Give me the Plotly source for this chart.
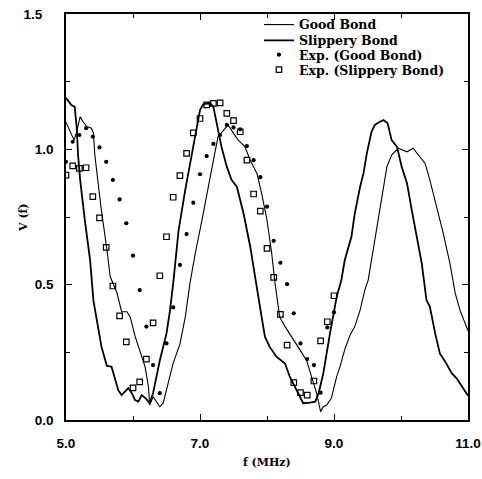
import plotly.graph_objects as go

# Theory curves
slip_x = [5.00,5.08,5.13,5.16,5.18,5.21,5.28,5.36,5.41,5.47,5.53,5.61,5.68,5.78,5.83,5.88,5.93,5.98,6.03,6.08,6.13,6.19,6.25,6.30,6.40,6.50,6.55,6.60,6.68,6.78,6.88,6.95,7.00,7.05,7.15,7.20,7.25,7.32,7.40,7.47,7.55,7.65,7.75,7.85,7.92,7.97,8.04,8.14,8.27,8.34,8.44,8.54,8.64,8.72,8.77,8.84,8.94,9.04,9.11,9.16,9.26,9.31,9.39,9.44,9.49,9.56,9.61,9.67,9.74,9.80,9.86,9.94,10.01,10.09,10.16,10.23,10.31,10.38,10.43,10.51,10.58,10.66,10.76,10.83,10.91,11.00]
slip_y = [1.19,1.164,1.157,1.08,0.98,0.89,0.74,0.59,0.44,0.35,0.27,0.20,0.197,0.11,0.092,0.105,0.118,0.10,0.074,0.068,0.092,0.08,0.062,0.10,0.22,0.32,0.40,0.505,0.70,0.85,0.985,1.083,1.145,1.167,1.17,1.157,1.096,1.01,0.936,0.887,0.862,0.763,0.64,0.48,0.38,0.307,0.27,0.234,0.209,0.16,0.11,0.062,0.064,0.068,0.099,0.172,0.32,0.455,0.517,0.59,0.677,0.763,0.862,0.911,0.985,1.065,1.09,1.10,1.108,1.096,1.034,1.01,0.936,0.874,0.776,0.69,0.579,0.443,0.419,0.32,0.246,0.215,0.172,0.154,0.123,0.09]

good_x = [5.00,5.08,5.12,5.16,5.21,5.26,5.31,5.38,5.41,5.43,5.52,5.61,5.66,5.76,5.83,5.91,5.96,6.03,6.10,6.18,6.23,6.25,6.30,6.35,6.40,6.45,6.53,6.60,6.70,6.78,6.85,6.93,7.03,7.12,7.22,7.27,7.35,7.42,7.50,7.57,7.67,7.75,7.85,7.92,8.00,8.07,8.12,8.19,8.27,8.39,8.49,8.59,8.67,8.74,8.80,8.84,8.89,8.96,8.99,9.04,9.09,9.16,9.24,9.31,9.39,9.46,9.51,9.61,9.71,9.79,9.86,9.96,10.03,10.09,10.18,10.28,10.36,10.43,10.53,10.63,10.73,10.81,10.88,10.98,11.00]
good_y = [1.10,1.059,1.034,1.065,1.12,1.10,1.084,1.078,1.059,0.98,0.79,0.63,0.53,0.47,0.40,0.40,0.38,0.31,0.26,0.197,0.123,0.055,0.086,0.068,0.049,0.062,0.137,0.21,0.28,0.38,0.505,0.617,0.739,0.862,0.985,1.047,1.071,1.09,1.059,1.034,1.01,0.96,0.911,0.837,0.739,0.616,0.505,0.38,0.345,0.296,0.26,0.22,0.16,0.099,0.031,0.049,0.055,0.08,0.11,0.16,0.197,0.26,0.314,0.345,0.406,0.48,0.517,0.665,0.813,0.936,0.979,1.004,0.997,0.991,1.004,0.973,0.948,0.887,0.788,0.69,0.579,0.468,0.406,0.345,0.33]

# Experimental points
exp_f = [5.0,5.1,5.2,5.3,5.4,5.5,5.6,5.7,5.8,5.9,6.0,6.1,6.2,6.3,6.4,6.5,6.6,6.7,6.8,6.9,7.0,
         7.1,7.2,7.3,7.4,7.5,7.6,7.7,7.8,7.9,8.0,8.1,8.2,8.3,8.4,8.5,8.6,8.7,8.8,8.9,9.0]
exp_good = [0.954,1.028,1.053,1.078,1.047,1.007,0.954,0.887,0.815,0.727,0.607,0.48,0.345,0.203,0.099,0.283,0.416,0.573,0.687,0.803,0.908,
            0.975,1.02,1.053,1.09,1.081,1.074,1.012,0.96,0.897,0.788,0.662,0.581,0.502,0.394,0.283,0.225,0.203,0.101,0.342,0.398]
exp_slip = [0.905,0.939,0.93,0.932,0.825,0.747,0.638,0.495,0.385,0.289,0.119,0.141,0.225,0.359,0.533,0.677,0.823,0.903,0.985,1.061,1.114,
            1.164,1.17,1.172,1.133,1.106,1.065,0.96,0.835,0.772,0.634,0.527,0.39,0.277,0.138,0.101,0.092,0.144,0.292,0.363,0.459]

x_ticks = [5, 7, 9, 11]
x_ticktext = ["5.0", "7.0", "9.0", "11.0"]
y_ticks = [0, 0.5, 1.0, 1.5]
y_ticktext = ["0.0", "0.5", "1.0", "1.5\u00a0\u00a0\u00a0"]
x_title = "f (MHz)"
y_title = "V (f)"

fig = go.Figure()
fig.add_trace(go.Scatter(x=good_x, y=good_y, mode="lines", name="Good Bond", legend="legend",
                         line=dict(color="black", width=1.1)))
fig.add_trace(go.Scatter(x=slip_x, y=slip_y, mode="lines", name="Slippery Bond", legend="legend2",
                         line=dict(color="black", width=1.8)))
fig.add_trace(go.Scatter(x=exp_f, y=exp_good, mode="markers", name="Exp. (Good Bond)", legend="legend3",
                         marker=dict(symbol="circle", size=4.2, color="black")))
fig.add_trace(go.Scatter(x=exp_f, y=exp_slip, mode="markers", name="Exp. (Slippery Bond)", legend="legend4",
                         marker=dict(symbol="square-open", size=5.5, color="black",
                                     line=dict(width=1.2, color="black"))))

tickfont = dict(family="Liberation Sans", size=13.5, color="black", weight="bold")
titlefont = dict(family="DejaVu Serif", size=11, color="black", weight="bold")
legfont = dict(family="DejaVu Serif", size=12.5, color="black", weight="bold")

def leg(yc):
    return dict(x=0.48, y=yc, xanchor="left", yanchor="middle",
                bgcolor="rgba(0,0,0,0)", borderwidth=0, font=legfont, itemwidth=30)

fig.update_layout(
    width=482, height=479,
    margin=dict(l=66, r=14, t=14, b=59, autoexpand=False),
    paper_bgcolor="white", plot_bgcolor="white",
    showlegend=True,
    legend=leg(0.973), legend2=leg(0.934), legend3=leg(0.899), legend4=leg(0.862),
    annotations=[
        dict(text=x_title, xref="paper", yref="paper", x=0.5, y=-0.105,
             showarrow=False, font=titlefont, xanchor="center", yanchor="middle"),
        dict(text=y_title, xref="paper", yref="paper", x=-0.107, y=0.5, textangle=-90,
             showarrow=False, font=titlefont, xanchor="center", yanchor="middle"),
    ],
)
fig.update_xaxes(range=[5, 11], tickvals=x_ticks, ticktext=x_ticktext, automargin=False,
                 ticks="inside", ticklen=6, tickwidth=1.2, tickcolor="black",
                 ticklabelstandoff=10, ticklabeloverflow="allow",
                 minor=dict(dtick=1, tick0=5, ticks="inside", ticklen=4, tickcolor="black"),
                 showline=True, linecolor="black", linewidth=1.5, mirror="allticks",
                 showgrid=False, zeroline=False, tickfont=tickfont)
fig.update_yaxes(range=[0, 1.5], tickvals=y_ticks, ticktext=y_ticktext, automargin=False,
                 ticks="inside", ticklen=6, tickwidth=1.2, tickcolor="black",
                 ticklabelstandoff=8, ticklabeloverflow="allow",
                 minor=dict(dtick=0.25, tick0=0, ticks="inside", ticklen=4, tickcolor="black"),
                 showline=True, linecolor="black", linewidth=1.5, mirror="allticks",
                 showgrid=False, zeroline=False, tickfont=tickfont)

fig.write_html("out.html", config={"displayModeBar": False},
               post_script="document.body.style.margin='0';document.body.style.overflow='hidden';")
